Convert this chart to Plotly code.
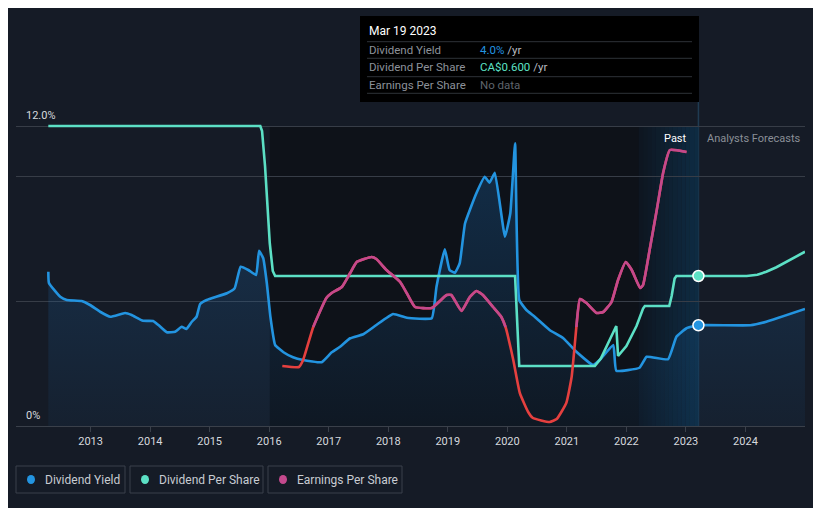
import plotly.graph_objects as go

# ---------------- data (decimal years) ----------------
yield_x = [2012.29, 2012.30, 2012.49, 2012.60, 2012.85, 2012.99, 2013.16, 2013.33, 2013.58, 2013.69,
           2013.88, 2014.05, 2014.14, 2014.28, 2014.42, 2014.53, 2014.61, 2014.70, 2014.78, 2014.84,
           2014.95, 2015.29, 2015.42, 2015.52, 2015.65, 2015.78, 2015.83, 2015.90, 2015.96, 2016.02,
           2016.10, 2016.24, 2016.40, 2016.57, 2016.88, 2017.05, 2017.19, 2017.36, 2017.58, 2017.80,
           2018.08, 2018.31, 2018.73, 2018.81, 2018.95, 2019.03, 2019.12, 2019.20, 2019.29, 2019.48,
           2019.62, 2019.70, 2019.79, 2019.96, 2020.05, 2020.13, 2020.20, 2020.32, 2020.46, 2020.71,
           2020.94, 2021.16, 2021.44, 2021.55, 2021.78, 2021.83, 2022.22, 2022.34, 2022.70, 2022.84,
           2023.01, 2023.21, 2024.08, 2024.35, 2025.00]
yield_y = [6.17, 5.72, 5.17, 5.04, 5.00, 4.84, 4.57, 4.37, 4.52, 4.44,
           4.21, 4.20, 4.04, 3.75, 3.77, 3.97, 3.88, 4.17, 4.37, 4.88,
           5.04, 5.31, 5.51, 6.37, 6.24, 6.04, 7.01, 6.71, 5.71, 4.37,
           3.24, 2.95, 2.75, 2.64, 2.55, 2.95, 3.17, 3.51, 3.67, 4.04,
           4.48, 4.33, 4.31, 5.57, 7.07, 6.24, 6.13, 6.51, 8.11, 9.31,
           9.97, 9.73, 10.13, 7.57, 8.51, 11.31, 5.04, 4.64, 4.37, 3.84,
           3.51, 2.97, 2.44, 2.64, 3.24, 2.21, 2.33, 2.77, 2.67, 3.57,
           3.91, 4.03, 4.03, 4.17, 4.68]

dps_x = [2012.29, 2015.85, 2015.88, 2015.93, 2016.01, 2016.06, 2016.10, 2020.13, 2020.20, 2021.47,
         2021.57, 2021.67, 2021.83, 2021.86, 2022.00, 2022.17, 2022.28, 2022.31, 2022.72, 2022.76,
         2022.81, 2022.84, 2023.21, 2024.02, 2024.20, 2024.35, 2024.52, 2024.69, 2024.85, 2025.00]
dps_y = [1.20, 1.20, 1.18, 1.04, 0.73, 0.62, 0.60, 0.60, 0.24, 0.24,
         0.27, 0.32, 0.40, 0.28, 0.32, 0.40, 0.47, 0.48, 0.48, 0.52,
         0.59, 0.60, 0.60, 0.60, 0.605, 0.617, 0.635, 0.657, 0.677, 0.697]

eps_x = [2016.22, 2016.50, 2016.57, 2016.74, 2016.96, 2017.05, 2017.22, 2017.36, 2017.47, 2017.72,
         2017.80, 2017.97, 2018.20, 2018.31, 2018.45, 2018.73, 2018.98, 2019.06, 2019.23, 2019.37,
         2019.48, 2019.59, 2019.76, 2019.90, 2019.97, 2020.10, 2020.21, 2020.35, 2020.43, 2020.71,
         2020.83, 2020.99, 2021.08, 2021.16, 2021.22, 2021.33, 2021.50, 2021.61, 2021.75, 2021.86,
         2021.99, 2022.09, 2022.23, 2022.28, 2022.39, 2022.51, 2022.62, 2022.73, 2023.01]
eps_y = [-0.39, -0.40, -0.33, 0.00, 0.29, 0.34, 0.40, 0.54, 0.65, 0.70,
         0.68, 0.57, 0.45, 0.34, 0.20, 0.19, 0.32, 0.32, 0.16, 0.30,
         0.36, 0.32, 0.20, 0.10, 0.00, -0.33, -0.66, -0.85, -0.91, -0.95,
         -0.92, -0.76, -0.50, 0.00, 0.28, 0.24, 0.14, 0.15, 0.25, 0.47,
         0.65, 0.57, 0.39, 0.42, 0.77, 1.17, 1.55, 1.77, 1.75]

year_ticks = list(range(2013, 2025))
year_labels = [str(y) for y in year_ticks]
yield_tick_vals = [0, 12]
yield_tick_labels = ["0%", "12.0%"]

dark_start, past_start, today = 2016.01, 2022.21, 2023.21
today_yield, today_dps = 4.03, 0.60
tooltip_date = "Mar 19 2023"
tooltip_rows = [("Dividend Yield", "4.0%", "#2394e0"),
                ("Dividend Per Share", "CA$0.600", "#5ce0c5"),
                ("Earnings Per Share", "No data", "#5f646c")]
legend_names = ["Dividend Yield", "Dividend Per Share", "Earnings Per Share"]

# ---------------- styles ----------------
BG = "#151b26"
BLUE = "#2394e0"
TEAL = "#5ce0c5"
MAGENTA = "#c4498d"
RED = "#e5403f"
GRID = "#373d47"
FONT = "Roboto"

X0, X1 = 2011.747, 2025.0
Y1 = 12 * 326 / 300
fig = go.Figure()

# split EPS into non-negative (magenta) runs, with zero crossing points
pos_x, pos_y = [], []
for i in range(len(eps_x)):
    b = eps_y[i]
    if i > 0:
        a = eps_y[i - 1]
        if (a < 0) != (b < 0):
            t = a / (a - b)
            pos_x.append(eps_x[i - 1] + t * (eps_x[i] - eps_x[i - 1]))
            pos_y.append(0.0)
    if b >= 0:
        pos_x.append(eps_x[i]); pos_y.append(b)
    elif pos_x and pos_x[-1] is not None:
        pos_x.append(None); pos_y.append(None)

fig.add_trace(go.Scatter(
    x=yield_x, y=yield_y, mode="lines", line=dict(color=BLUE, width=2.6, shape="spline", smoothing=0.35),
    fill="tozeroy",
    fillgradient=dict(type="vertical", colorscale=[[0, "rgba(30,120,200,0.06)"], [1, "rgba(30,120,200,0.28)"]]),
    hoverinfo="skip", showlegend=False))
fig.add_trace(go.Scatter(
    x=eps_x, y=eps_y, yaxis="y3", mode="lines",
    line=dict(color=RED, width=2.6, shape="spline", smoothing=0.4), hoverinfo="skip", showlegend=False))
fig.add_trace(go.Scatter(
    x=pos_x, y=pos_y, yaxis="y3", mode="lines", connectgaps=False,
    line=dict(color=MAGENTA, width=2.6, shape="spline", smoothing=0.4), hoverinfo="skip", showlegend=False))
fig.add_trace(go.Scatter(
    x=dps_x, y=dps_y, yaxis="y2", mode="lines",
    line=dict(color=TEAL, width=2.6), hoverinfo="skip", showlegend=False))
fig.add_trace(go.Scatter(
    x=[today], y=[today_yield], mode="markers", cliponaxis=False,
    marker=dict(color=BLUE, size=11, line=dict(color="white", width=1.5)), hoverinfo="skip", showlegend=False))
fig.add_trace(go.Scatter(
    x=[today], y=[today_dps], yaxis="y2", mode="markers", cliponaxis=False,
    marker=dict(color=TEAL, size=11, line=dict(color="white", width=1.5)), hoverinfo="skip", showlegend=False))

shapes = []
shapes.append(dict(type="rect", xref="x", yref="y", x0=dark_start, x1=past_start, y0=0, y1=12,
                   fillcolor="#0e1219", line=dict(width=0), layer="below"))
n = 14
for k in range(n):
    xa = past_start + (today - past_start) * k / n
    xb = past_start + (today - past_start) * (k + 1) / n
    t = (k + 0.5) / n
    r = int(14 + (15 - 14) * t); g = int(22 + (44 - 22) * t); b = int(32 + (68 - 32) * t)
    shapes.append(dict(type="rect", xref="x", yref="y", x0=xa, x1=xb, y0=0, y1=12,
                       fillcolor=f"rgb({r},{g},{b})", line=dict(width=0), layer="below"))
shapes.append(dict(type="line", xref="x", yref="paper", x0=today, x1=today, y0=0, y1=1,
                   line=dict(color="#1f3b52", width=1.5), layer="below"))


def px(xp):
    return (xp - 16) / 789.0


def py(yp):
    return (426 - yp) / 326.0


shapes.append(dict(type="rect", xref="paper", yref="paper", x0=px(360), x1=px(699), y0=py(102), y1=py(16),
                   fillcolor="#000000", line=dict(width=0)))
for yl in [41.7, 58.3, 76.7, 93.3]:
    shapes.append(dict(type="line", xref="paper", yref="paper", x0=px(367), x1=px(692), y0=py(yl), y1=py(yl),
                       line=dict(color="#2e3238", width=1)))

annotations = []
annotations.append(dict(xref="paper", yref="paper", x=px(367), y=py(31), text=tooltip_date, showarrow=False,
                        xanchor="left", yanchor="middle", font=dict(family=FONT, size=12, color="#ffffff")))
row_y = [50, 67, 85]
for (lab, val, col), yy in zip(tooltip_rows, row_y):
    annotations.append(dict(xref="paper", yref="paper", x=px(367), y=py(yy), text=lab, showarrow=False,
                            xanchor="left", yanchor="middle", font=dict(family=FONT, size=11.5, color="#8d929a")))
    suffix = "" if val == "No data" else " <span style='color:#b8bcc2'>/yr</span>"
    annotations.append(dict(xref="paper", yref="paper", x=px(478), y=py(yy),
                            text=f"<span style='color:{col}'>{val}</span>{suffix}",
                            showarrow=False, xanchor="left", yanchor="middle", font=dict(family=FONT, size=11.5)))

for v, lab in zip(yield_tick_vals, yield_tick_labels):
    annotations.append(dict(xref="paper", yref="y", x=0, y=v, text=lab, showarrow=False, xanchor="left",
                            yanchor="bottom", xshift=8, yshift=2, font=dict(family=FONT, size=11, color="#d6d9de")))

annotations.append(dict(xref="x", yref="paper", x=today, y=py(138), text="Past", showarrow=False, xanchor="right",
                        xshift=-9, yanchor="middle", font=dict(family=FONT, size=11, color="#ffffff")))
annotations.append(dict(xref="x", yref="paper", x=today, y=py(138), text="Analysts Forecasts", showarrow=False,
                        xanchor="left", xshift=7, yanchor="middle", font=dict(family=FONT, size=11, color="#8a8f97")))

leg_boxes = [(16, 125), (130, 263), (268, 402)]
leg_colors = [BLUE, TEAL, MAGENTA]
for (a, b), name, col in zip(leg_boxes, legend_names, leg_colors):
    shapes.append(dict(type="rect", xref="paper", yref="paper", x0=px(a), x1=px(b), y0=py(493), y1=py(466),
                       line=dict(color="#3a404a", width=1), fillcolor="rgba(0,0,0,0)"))
    shapes.append(dict(type="circle", xref="paper", yref="paper", x0=px(a + 11), x1=px(a + 19), y0=py(484), y1=py(475),
                       line=dict(width=0), fillcolor=col))
    annotations.append(dict(xref="paper", yref="paper", x=px(a + 27), y=py(479.5), text=name, showarrow=False,
                            xanchor="left", yanchor="middle", font=dict(family=FONT, size=12, color="#c8ccd2")))

# page has an 8px body margin: figure is 813x500 so plot area lands at page x 16..805, y 100..426
fig.update_layout(
    width=813, height=500,
    margin=dict(l=8, r=16, t=92, b=82),
    paper_bgcolor=BG, plot_bgcolor=BG,
    showlegend=False,
    xaxis=dict(range=[X0, X1], tickvals=year_ticks, ticktext=year_labels, showgrid=False, zeroline=False,
               showline=True, linecolor="#3a404a", linewidth=1, ticks="outside", ticklen=5, tickcolor="#3a404a",
               tickfont=dict(family=FONT, size=11, color="#d6d9de"), fixedrange=True),
    yaxis=dict(range=[0, Y1], tickvals=[0, 5, 10, 12], showticklabels=False, showgrid=True, gridcolor=GRID,
               gridwidth=1, zeroline=False, fixedrange=True),
    yaxis2=dict(range=[0, 1.2 * 326 / 300], overlaying="y", visible=False, fixedrange=True),
    yaxis3=dict(range=[-0.99, 2.27], overlaying="y", visible=False, fixedrange=True),
    shapes=shapes, annotations=annotations,
)

fig.write_html("out.html")
